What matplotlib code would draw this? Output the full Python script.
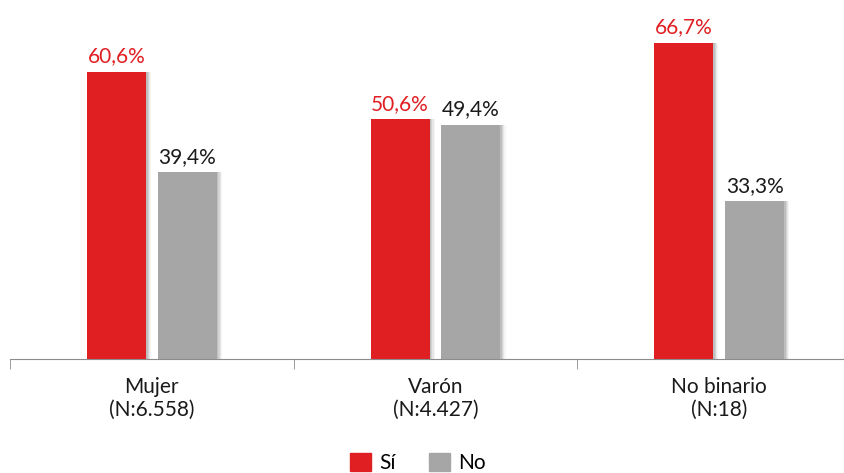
import numpy as np
import matplotlib.pyplot as plt
from matplotlib.patches import Patch

plt.rcParams['font.family'] = ['Lato', 'DejaVu Sans']

categorias = ['Mujer\n(N:6.558)', 'Varón\n(N:4.427)', 'No binario\n(N:18)']
si = [60.6, 50.6, 66.7]
no = [39.4, 49.4, 33.3]
etiquetas_si = ['60,6%', '50,6%', '66,7%']
etiquetas_no = ['39,4%', '49,4%', '33,3%']

rojo = '#e01f23'
gris = '#a6a6a6'

fig = plt.figure(figsize=(8.44, 4.73), dpi=100)
# the axis runs past the right edge of the picture, as in the original
alto = 359 * 0.95
ax = fig.add_axes([10 / 844, (473 - 359) / 473, 851 / 844, alto / 473])

x = np.arange(len(categorias))
w = 0.208
off = 0.125

# soft shadows to the right of each bar
for k in range(4):
    a = 0.10 - k * 0.02
    ax.bar(x - off + 0.006 + k * 0.004, si, w, color='black', alpha=a, zorder=1)
    ax.bar(x + off + 0.006 + k * 0.004, no, w, color='black', alpha=a, zorder=1)

ax.bar(x - off, si, w, color=rojo, zorder=2)
ax.bar(x + off, no, w, color=gris, zorder=2)

for i in range(len(x)):
    ax.text(x[i] - off, si[i] + 1.2, etiquetas_si[i], ha='center', va='bottom',
            color=rojo, fontsize=15)
    ax.text(x[i] + off, no[i] + 1.2, etiquetas_no[i], ha='center', va='bottom',
            color='#1a1a1a', fontsize=15)

ax.set_xlim(-0.5, 2.5)
ax.set_ylim(0, alto / 4.736)
ax.set_xticks(x)
ax.set_xticklabels(categorias, fontsize=15, color='#1a1a1a', linespacing=1.2)
ax.set_xticks([-0.5, 0.5, 1.5, 2.5], minor=True)
ax.tick_params(axis='x', which='major', length=0, pad=13)
ax.tick_params(axis='x', which='minor', length=7, color='#8c8c8c')
ax.set_yticks([])
for s in ['top', 'right', 'left']:
    ax.spines[s].set_visible(False)
ax.spines['bottom'].set_color('#8c8c8c')

fig.legend(handles=[Patch(color=rojo, label='Sí'), Patch(color=gris, label='No')],
           loc='center', bbox_to_anchor=(418 / 844, 1 - 463 / 473), ncol=2,
           frameon=False, fontsize=15, handlelength=1.0, handleheight=1.0,
           handletextpad=0.4, columnspacing=1.6)

fig.savefig('out.png', dpi=100)
